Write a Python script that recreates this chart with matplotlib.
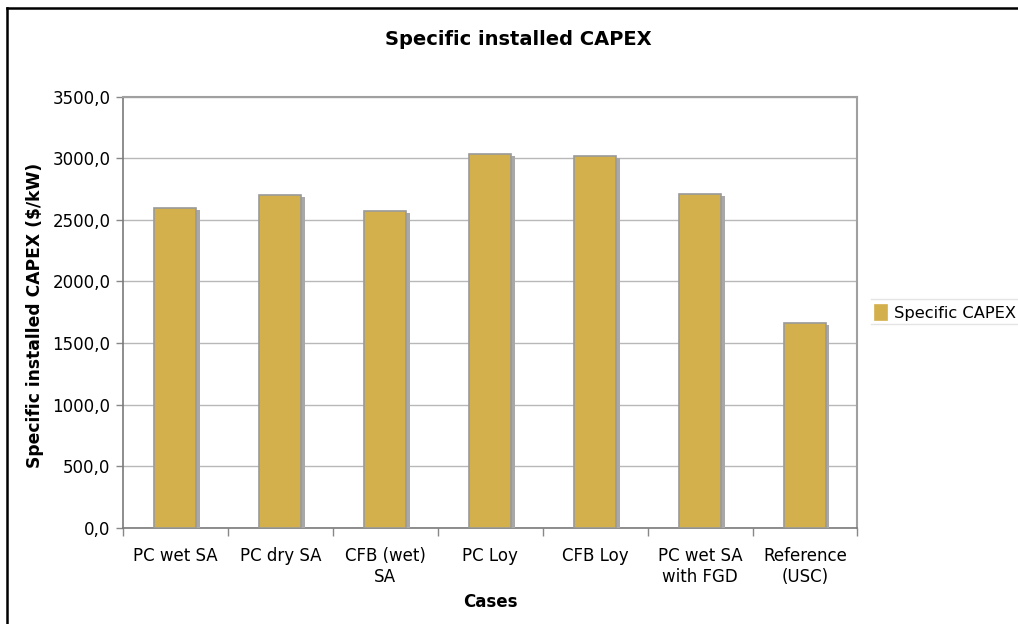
import matplotlib
matplotlib.use("Agg")
import matplotlib.pyplot as plt
import matplotlib.patheffects as pe
from matplotlib.lines import Line2D
from matplotlib.ticker import FuncFormatter, FixedLocator
import numpy as np

cases = ["PC wet SA", "PC dry SA", "CFB (wet)\nSA", "PC Loy", "CFB Loy",
         "PC wet SA\nwith FGD", "Reference\n(USC)"]
capex = [2600, 2705, 2575, 3035, 3020, 2710, 1665]
yticks = [0, 500, 1000, 1500, 2000, 2500, 3000, 3500]

bar_color = "#D4B04C"
edge_color = "#9a9a9a"
grid_color = "#b8b8b8"

plt.rcParams["font.family"] = "DejaVu Sans"

fig = plt.figure(figsize=(10.18, 6.24), dpi=100)
ax = fig.add_axes([0.1208, 0.1546, 0.7215, 0.69])

x = np.arange(len(cases))
bars = ax.bar(x, capex, width=0.4, color=bar_color, edgecolor=edge_color,
              linewidth=1.2, label="Specific CAPEX", zorder=3)
for b in bars:
    b.set_path_effects([
        pe.SimplePatchShadow(offset=(2.5, -1.5), shadow_rgbFace="#a8a8a8", alpha=1.0),
        pe.Normal(),
    ])

ax.set_xlim(-0.5, len(cases) - 0.5)
ax.set_ylim(0, 3500)
ax.set_yticks(yticks)
ax.yaxis.set_major_formatter(FuncFormatter(lambda v, _: f"{v:.1f}".replace(".", ",")))
ax.grid(axis="y", color=grid_color, linewidth=1.0, zorder=0)

ax.set_xticks(x)
ax.set_xticklabels(cases, fontsize=12)
ax.xaxis.set_minor_locator(FixedLocator(np.arange(-0.5, len(cases), 1.0)))
ax.tick_params(axis="x", which="major", length=0, pad=14)
ax.tick_params(axis="x", which="minor", length=6, color="#888888", width=1)
ax.tick_params(axis="y", length=5, color="#888888", width=1, labelsize=12, pad=4)

for side in ["left", "bottom"]:
    ax.spines[side].set_color("#7a7a7a")
    ax.spines[side].set_linewidth(1.2)
for side in ["top", "right"]:
    ax.spines[side].set_color("#a0a0a0")
    ax.spines[side].set_linewidth(1.5)

fig.text(0.509, 0.936, "Specific installed CAPEX", ha="center", va="center",
         fontsize=14, fontweight="bold")
fig.text(0.034, 0.494, "Specific installed CAPEX ($/kW)", ha="center", va="center",
         rotation=90, fontsize=12.3, fontweight="bold")
fig.text(0.482, 0.035, "Cases", ha="center", va="center",
         fontsize=12, fontweight="bold")

leg = fig.legend(loc="center left", bbox_to_anchor=(0.853, 0.498), frameon=False,
                 fontsize=11.7, handlelength=0.75, handleheight=1.0, handletextpad=0.4,
                 borderaxespad=0)
for h in leg.legend_handles:
    h.set_path_effects([])
    h.set_edgecolor(bar_color)
for yl in (1 - 299 / 624, 1 - 324 / 624):
    fig.add_artist(Line2D([871 / 1018, 1.0], [yl, yl], color="#e4e4e4", linewidth=1))

# outer chart frame (top and left edges)
fig.add_artist(Line2D([7 / 1018, 1.0], [1 - 8 / 624, 1 - 8 / 624], color="black", linewidth=1.8))
fig.add_artist(Line2D([7 / 1018, 7 / 1018], [0, 1 - 8 / 624], color="black", linewidth=1.8))

fig.savefig("out.png", dpi=100)
